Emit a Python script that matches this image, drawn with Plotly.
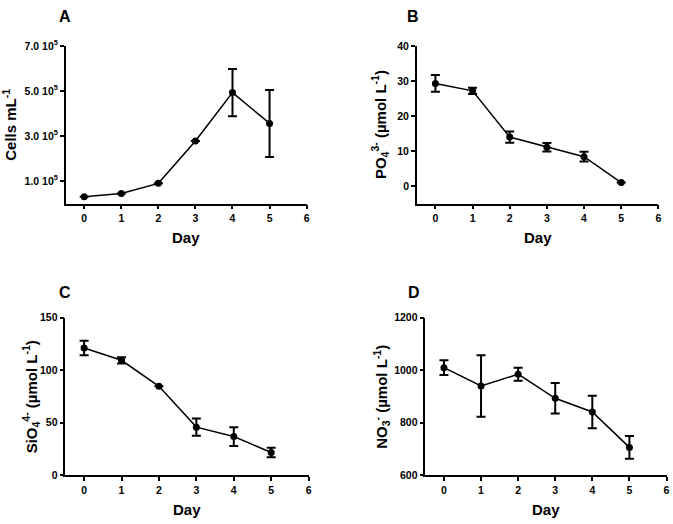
import plotly.graph_objects as go

days = [0, 1, 2, 3, 4, 5]

cells = [0.30e5, 0.45e5, 0.90e5, 2.78e5, 4.93e5, 3.56e5]
cells_err = [0, 0, 0, 0, 1.05e5, 1.49e5]

po4 = [29.3, 27.2, 14.0, 11.1, 8.4, 1.0]
po4_err = [2.4, 0.9, 1.6, 1.2, 1.4, 0]

sio4 = [121.2, 109.5, 84.7, 45.8, 36.8, 21.6]
sio4_err = [7.0, 3.0, 0, 8.3, 9.0, 4.5]

no3 = [1010, 940, 985, 893, 841, 706]
no3_err = [28, 117, 25, 58, 62, 43]

day_ticks = [0, 1, 2, 3, 4, 5, 6]
cells_tickvals = [1e5, 3e5, 5e5, 7e5]
cells_ticktext = ["1.0 10<sup>5</sup>", "3.0 10<sup>5</sup>", "5.0 10<sup>5</sup>", "7.0 10<sup>5</sup>"]
po4_ticks = [0, 10, 20, 30, 40]
sio4_ticks = [0, 50, 100, 150]
no3_ticks = [600, 800, 1000, 1200]

FONT = "Liberation Sans, Arial, sans-serif"
W, H = 673, 524

fig = go.Figure()

panels = [
    dict(y=cells, err=cells_err, xa="x", ya="y",
         xdom=[66, 308], ydom=[39, 201], yr=[0, 7e5],
         tv=cells_tickvals, tt=cells_ticktext,
         title="Cells mL<sup>-1</sup>", letter="A", lpos=(65, 9),
         ytitle_x=10, xtitle_y=236),
    dict(y=po4, err=po4_err, xa="x2", ya="y2",
         xdom=[418.7, 661.3], ydom=[39, 201], yr=[-5, 40],
         tv=po4_ticks, tt=[str(v) for v in po4_ticks],
         title="PO<sub>4</sub><sup>3-</sup> (µmol L<sup>-1</sup>)", letter="B", lpos=(414.5, 9),
         ytitle_x=382, xtitle_y=236),
    dict(y=sio4, err=sio4_err, xa="x3", ya="y3",
         xdom=[65.7, 310], ydom=[318.3, 480], yr=[0, 150],
         tv=sio4_ticks, tt=[str(v) for v in sio4_ticks],
         title="SiO<sub>4</sub><sup>4-</sup> (µmol L<sup>-1</sup>)", letter="C", lpos=(65, 292.5),
         ytitle_x=31, xtitle_y=515),
    dict(y=no3, err=no3_err, xa="x4", ya="y4",
         xdom=[427.3, 669.5], ydom=[318.3, 480], yr=[600, 1200],
         tv=no3_ticks, tt=[str(v) for v in no3_ticks],
         title="NO<sub>3</sub><sup>-</sup> (µmol L<sup>-1</sup>)", letter="D", lpos=(415.5, 292.5),
         ytitle_x=383, xtitle_y=515),
]

layout = dict(
    width=W, height=H,
    margin=dict(l=0, r=0, t=0, b=0),
    paper_bgcolor="white", plot_bgcolor="white",
    showlegend=False,
    font=dict(family=FONT, color="black"),
)

titlefont = dict(family=FONT, size=15, color="black", weight="bold")
tickfont = dict(family=FONT, size=10.5, color="black", weight="bold")

annotations = []
for i, p in enumerate(panels):
    fig.add_trace(go.Scatter(
        x=days, y=p["y"], xaxis=p["xa"], yaxis=p["ya"],
        mode="lines+markers",
        line=dict(color="black", width=1.5),
        marker=dict(color="black", size=7),
        error_y=dict(type="data", array=p["err"], visible=True,
                     color="black", thickness=2, width=4.5),
        hoverinfo="skip",
    ))
    sfx = "" if i == 0 else str(i + 1)
    xdom = [p["xdom"][0] / W, p["xdom"][1] / W]
    ydom = [1 - p["ydom"][1] / H, 1 - p["ydom"][0] / H]
    xaxis = dict(
        domain=xdom, anchor="y" + sfx, range=[-0.5, 6],
        tickvals=day_ticks, ticktext=["<b>%d</b>" % d for d in day_ticks],
        showgrid=False, zeroline=False, showline=True, linecolor="black", linewidth=1.5,
        ticks="outside", ticklen=4, tickwidth=1.5, tickcolor="black",
        tickfont=tickfont,
    )
    yaxis = dict(
        domain=ydom, anchor="x" + sfx, range=p["yr"],
        tickvals=p["tv"], ticktext=["<b>%s</b>" % t for t in p["tt"]],
        showgrid=False, zeroline=False, showline=True, linecolor="black", linewidth=1.5,
        ticks="outside", ticklen=4, tickwidth=1.5, tickcolor="black",
        tickfont=tickfont,
    )
    layout["xaxis" + sfx] = xaxis
    layout["yaxis" + sfx] = yaxis
    annotations.append(dict(
        text="<b>%s</b>" % p["letter"], x=p["lpos"][0] / W, y=1 - p["lpos"][1] / H,
        xref="paper", yref="paper", showarrow=False,
        xanchor="center", yanchor="middle",
        font=dict(family=FONT, size=16, color="black", weight="bold"),
    ))
    annotations.append(dict(
        text="<b>Day</b>", x=(p["xdom"][0] + p["xdom"][1]) / 2 / W, y=1 - p["xtitle_y"] / H,
        xref="paper", yref="paper", showarrow=False,
        xanchor="center", yanchor="middle", font=titlefont,
    ))
    annotations.append(dict(
        text="<b>%s</b>" % p["title"], x=p["ytitle_x"] / W, y=1 - (p["ydom"][0] + p["ydom"][1]) / 2 / H,
        xref="paper", yref="paper", showarrow=False, textangle=-90,
        xanchor="center", yanchor="middle", font=titlefont,
    ))

layout["annotations"] = annotations
fig.update_layout(**layout)
fig.write_html("out.html", config={"displayModeBar": False},
               post_script="document.body.style.margin='0';document.body.style.overflow='hidden';")
